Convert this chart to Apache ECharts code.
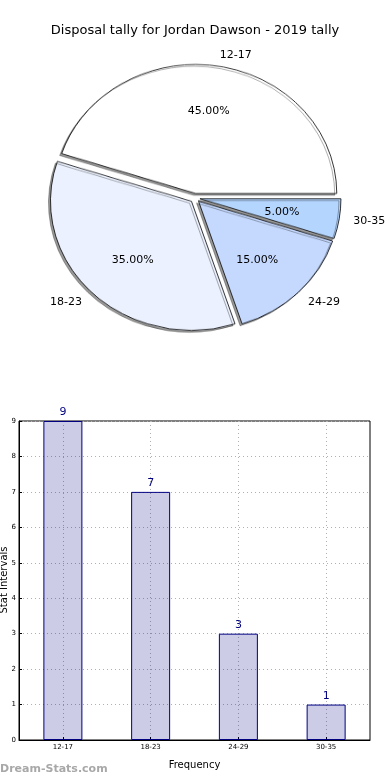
<!DOCTYPE html>
<html><head><meta charset="utf-8">
<script src="https://cdn.jsdelivr.net/npm/echarts@6/dist/echarts.min.js"></script>
<style>
html,body{margin:0;padding:0;background:#fff}
#wrap{position:relative;width:390px;height:780px}
#p{position:absolute;left:0;top:0;width:390px;height:400px;transform:scaleY(0.915);transform-origin:195px 198px}
#c{position:absolute;left:0;top:0;width:390px;height:780px}
</style>
</head><body><div id="wrap"><div id="p"></div><div id="c"></div></div>
<script>
const titleText = 'Disposal tally for Jordan Dawson - 2019 tally';
const categories = ['12-17', '18-23', '24-29', '30-35'];
const pieShares = [45, 35, 15, 5];
const pieColors = ['#ffffff', '#ebf1fe', '#c5d9fe', '#b4d5fe'];
const barValues = [9, 7, 3, 1];
const yTicks = [0, 1, 2, 3, 4, 5, 6, 7, 8, 9];
const xAxisName = 'Frequency';
const yAxisName = 'Stat Intervals';
const watermark = 'Dream-Stats.com';

const font = 'DejaVu Sans';
const pieCenter = [195, 198];
const labelRadialLen = [11, 13, 13, 13];
const labelHShift = [2, 9, 9, 13];

// Pie wedges (drawn in a vertically squashed layer to get the elliptical shape)
const pieChart = echarts.init(document.getElementById('p'), null, {renderer: 'canvas'});
pieChart.setOption({
  animation: false,
  series: [{
    type: 'pie', center: pieCenter, radius: 141,
    startAngle: 0, clockwise: false,
    selectedMode: 'multiple', selectedOffset: 5,
    silent: true, label: {show: false}, labelLine: {show: false},
    itemStyle: {borderColor: '#000', borderWidth: 0.8,
      shadowColor: 'rgba(0,0,0,0.4)', shadowBlur: 0, shadowOffsetX: -2, shadowOffsetY: 2},
    emphasis: {disabled: true},
    data: categories.map((c, i) => ({name: c, value: pieShares[i], selected: true,
      itemStyle: {color: pieColors[i]}}))
  }]
});

const chart = echarts.init(document.getElementById('c'), null, {renderer: 'canvas'});
chart.setOption({
  animation: false,
  backgroundColor: 'transparent',
  textStyle: {fontFamily: font},
  title: {
    text: titleText, left: 'center', top: 19,
    textStyle: {fontFamily: font, fontSize: 13, fontWeight: 'normal', color: '#000'}
  },
  graphic: [
    {type: 'text', left: 0, top: 764,
     style: {text: watermark, fill: '#a8a8a8', font: 'bold 11px "DejaVu Sans"'}},
    {type: 'text', x: 4, y: 580, rotation: Math.PI / 2,
     style: {text: yAxisName, fill: '#000', font: '10px "DejaVu Sans"', align: 'center', verticalAlign: 'middle'}}
  ],
  grid: {left: 19, right: 20, top: 421, bottom: 40, containLabel: false, outerBoundsMode: 'none',
    show: true, borderColor: '#000', borderWidth: 1, backgroundColor: '#fff'},
  xAxis: {
    type: 'category', data: categories,
    name: xAxisName, nameLocation: 'middle', nameGap: 20, nameMoveOverlap: false,
    nameTextStyle: {fontFamily: font, fontSize: 10, color: '#000'},
    axisLine: {lineStyle: {color: '#000', width: 1}},
    axisTick: {show: true, alignWithLabel: true, inside: true, length: 3, lineStyle: {color: '#000'}},
    axisLabel: {fontFamily: font, fontSize: 7, color: '#000', margin: 4},
    splitLine: {show: true, alignWithLabel: true, lineStyle: {color: '#b0b0b0', type: [1, 3], width: 1}}
  },
  yAxis: {
    type: 'value', min: 0, max: 9, interval: 1,
    axisLine: {show: true, lineStyle: {color: '#000', width: 1}},
    axisTick: {show: true, inside: true, length: 3, lineStyle: {color: '#000'}},
    axisLabel: {fontFamily: font, fontSize: 7, color: '#000', margin: 3},
    splitLine: {show: true, lineStyle: {color: '#b0b0b0', type: [1, 3], width: 1}}
  },
  series: [
    {
      type: 'pie', center: pieCenter, radius: 129,
      startAngle: 0, clockwise: false,
      selectedMode: 'multiple', selectedOffset: 5,
      avoidLabelOverlap: false, silent: true,
      itemStyle: {color: 'rgba(0,0,0,0)', borderWidth: 0},
      label: {show: true, position: 'outside', fontFamily: font, fontSize: 11, color: '#000',
        formatter: '{b}', distanceToLabelLine: 0},
      labelLine: {show: false, length: 13, length2: 0},
      emphasis: {disabled: true},
      data: categories.map((c, i) => ({name: c, value: pieShares[i], selected: true,
        labelLine: {show: false, length: labelRadialLen[i], length2: labelHShift[i]}}))
    },
    {
      type: 'pie', center: pieCenter, radius: [0, 160],
      startAngle: 0, clockwise: false,
      selectedMode: 'multiple', selectedOffset: 5,
      avoidLabelOverlap: false, silent: true,
      itemStyle: {color: 'rgba(0,0,0,0)', borderWidth: 0},
      label: {show: true, position: 'inside', fontFamily: font, fontSize: 11, color: '#000',
        formatter: p => p.value.toFixed(2) + '%'},
      labelLine: {show: false},
      emphasis: {disabled: true},
      data: categories.map((c, i) => ({name: c, value: pieShares[i], selected: true}))
    },
    {
      type: 'bar', data: barValues, barWidth: 39,
      itemStyle: {color: 'rgba(0,0,128,0.2)', borderColor: '#000080', borderWidth: 1},
      label: {show: true, position: 'top', distance: 3, color: '#000080', fontFamily: font, fontSize: 11},
      silent: true
    }
  ]
});
</script></body></html>
